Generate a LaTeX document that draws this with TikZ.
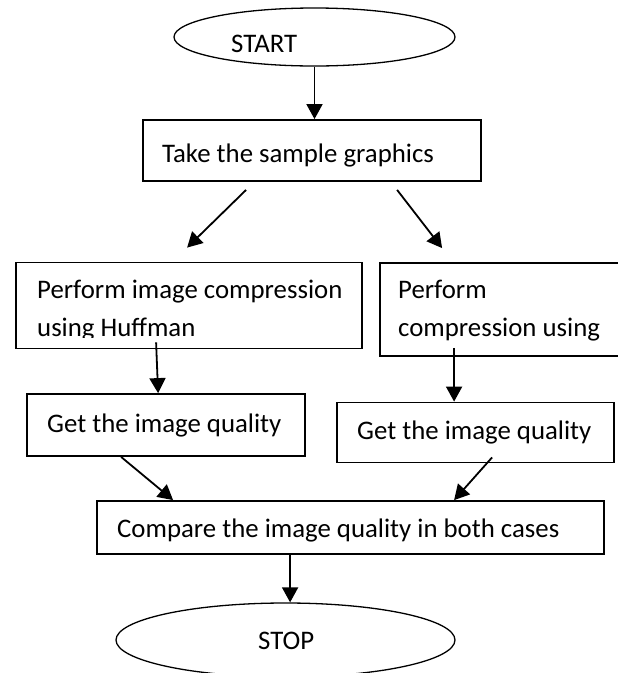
\documentclass[tikz,border=0pt]{standalone}
\usepackage{fontspec}
\setmainfont{Carlito}
\usetikzlibrary{shapes.geometric,arrows.meta,calc}

\tikzset{
  stepbox/.style={draw, line width=1.8pt, rectangle, inner sep=0pt},
  terminal/.style={draw, line width=1.3pt, ellipse, inner sep=0pt},
  label txt/.style={anchor=base west, inner sep=0pt,
    font=\fontsize{26.8}{39}\selectfont},
  flow/.style={line width=1.8pt,
    -{Triangle[length=15pt,width=16pt]}},
}

\begin{document}
\begin{tikzpicture}[x=1pt,y=-1pt]
  % page frame (pixel grid, y grows downwards)
  \clip (0,0) rectangle (618,673);
  \fill[white] (0,0) rectangle (618,673);

  % terminals
  \node[terminal, minimum width=281pt, minimum height=58pt] (start) at (314.5,37) {};
  \node[label txt] (starttxt) at (231,52) {START};

  \node[terminal, minimum width=339pt, minimum height=74pt] (stop) at (285.5,640) {};
  \node[label txt] (stoptxt) at (258,649) {STOP};

  % process boxes
  \node[stepbox, minimum width=338pt, minimum height=61pt] (take) at (312,150.5) {};
  \node[label txt] (taketxt) at (162,162) {Take the sample graphics};

  \node[stepbox, minimum width=346pt, minimum height=86pt] (huff) at (189,305.5) {};
  \begin{scope}
    \clip (18,265) rectangle (360,337.5);
    \node[label txt] (hufftxt1) at (37,298) {Perform image compression};
    \node[label txt] (hufftxt2) at (37,336) {using Huffman};
  \end{scope}

  \node[stepbox, minimum width=260pt, minimum height=93pt] (other) at (510,309.5) {};
  \node[label txt] (othertxt1) at (398,298) {Perform};
  \node[label txt] (othertxt2) at (398,336) {compression using};

  \node[stepbox, minimum width=278pt, minimum height=62pt] (qleft) at (166,425) {};
  \node[label txt] (qlefttxt) at (47,432) {Get the image quality};

  \node[stepbox, minimum width=277pt, minimum height=60pt] (qright) at (475.5,432.5) {};
  \node[label txt] (qrighttxt) at (357,439) {Get the image quality};

  \node[stepbox, minimum width=507pt, minimum height=53pt] (cmp) at (350.5,527.5) {};
  \node[label txt] (cmptxt) at (117,537) {Compare the image quality in both cases};

  % connectors
  \draw[flow] (start.south) -- (start.south |- take.north);
  \draw[flow] ($(take.south west)+(104,8)$) -- ($(huff.north west)+(172,-14)$);
  \draw[flow] ($(take.south west)+(255,8)$) -- ($(other.north west)+(63,-14)$);
  \draw[flow] ($(huff.south west)+(141,-7)$) -- ($(qleft.north west)+(132,0)$);
  \draw[flow] ($(other.south west)+(75,-9)$) -- ($(qright.north west)+(118,0)$);
  \draw[flow] ($(qleft.south west)+(95,0)$) -- ($(cmp.north west)+(77,0)$);
  \draw[flow] ($(qright.south west)+(156,-6)$) -- ($(cmp.north west)+(358,0)$);
  \coordinate (cmpout) at ($(cmp.south west)+(194,0)$);
  \draw[flow] (cmpout) -- (cmpout |- stop.north);
\end{tikzpicture}
\end{document}
